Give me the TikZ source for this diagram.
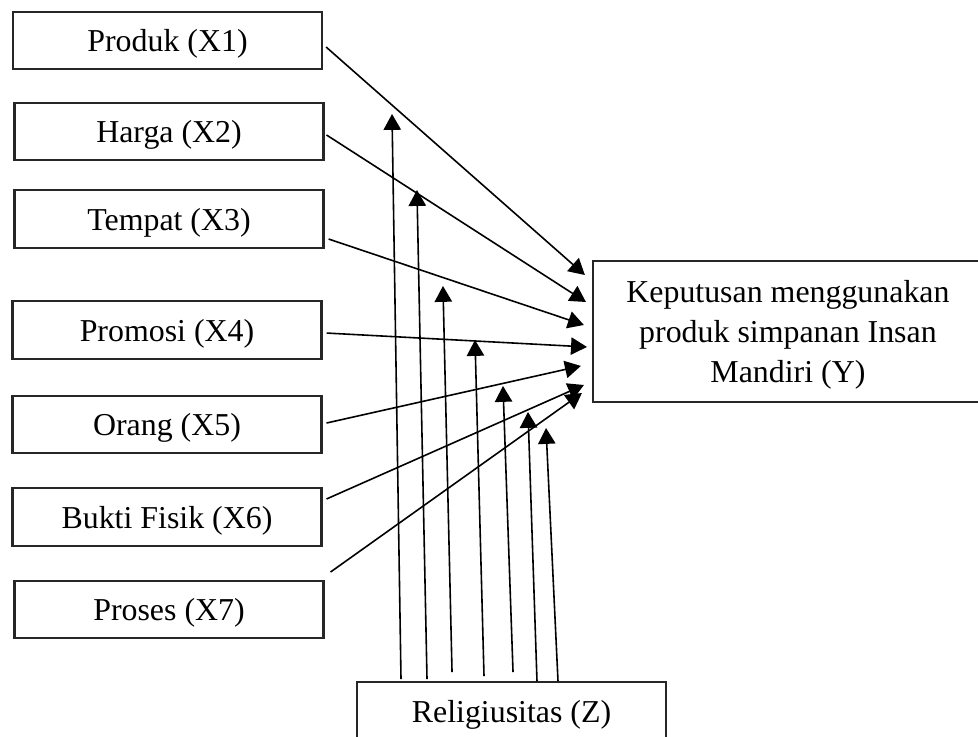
\documentclass[tikz,border=0pt]{standalone}
\usepackage{fontspec}
\setmainfont{Liberation Serif}
\usetikzlibrary{arrows.meta,calc}

\begin{document}
\begin{tikzpicture}[
font=\fontsize{12}{15}\selectfont,
factor/.style={draw=black!85, line width=0.8pt, align=center, minimum width=4.088cm, minimum height=0.761cm, inner sep=0pt, text depth=0pt},
target/.style={draw=black!85, line width=0.8pt, align=center, minimum width=5.159cm, minimum height=1.865cm, inner sep=0pt, text depth=0pt},
arrow/.style={-{Triangle[length=2.1mm,width=2.3mm]}, draw=black, line width=0.6pt}
]
\useasboundingbox (0,0) rectangle (12.938,-9.737);

\node[factor] (x1) at (2.216,-0.536) {Produk (X1)};
\node[factor] (x2) at (2.236,-1.740) {Harga (X2)};
\node[factor] (x3) at (2.236,-2.897) {Tempat (X3)};
\node[factor] (x4) at (2.209,-4.366) {Promosi (X4)};
\node[factor] (x5) at (2.209,-5.616) {Orang (X5)};
\node[factor] (x6) at (2.209,-6.839) {Bukti Fisik (X6)};
\node[factor] (x7) at (2.236,-8.063) {Proses (X7)};

\node[target] (y) at (10.424,-4.385) {Keputusan menggunakan\\produk simpanan Insan\\Mandiri (Y)};

\node[factor] (z) at (6.767,-9.406) {Religiusitas (Z)};

\draw[arrow] ($(x1.east)+(0.040,-0.086)$) -- ($(y.west)+(-0.093,0.747)$);
\draw[arrow] ($(x2.east)+(0.026,-0.046)$) -- ($(y.west)+(-0.079,0.390)$);
\draw[arrow] ($(x3.east)+(0.053,-0.265)$) -- ($(y.west)+(-0.106,0.086)$);
\draw[arrow] ($(x4.east)+(0.053,-0.040)$) -- ($(y.west)+(-0.066,-0.205)$);
\draw[arrow] ($(x5.east)+(0.053,0.020)$) -- ($(y.west)+(-0.146,-0.456)$);
\draw[arrow] ($(x6.east)+(0.053,0.238)$) -- ($(y.west)+(-0.106,-0.708)$);
\draw[arrow] ($(x7.east)+(0.079,0.496)$) -- ($(y.west)+(-0.132,-0.814)$);

\coordinate (t1) at (5.186,-1.508);
\coordinate (t2) at (5.516,-2.514);
\coordinate (t3) at (5.860,-3.783);
\coordinate (t4) at (6.284,-4.498);
\coordinate (t5) at (6.654,-5.106);
\coordinate (t6) at (6.985,-5.450);
\coordinate (t7) at (7.223,-5.662);

\draw[arrow] ($(z.north)+(-1.462,0.026)$) -- (t1);
\draw[arrow] ($(z.north)+(-1.118,0.026)$) -- (t2);
\draw[arrow] ($(z.north)+(-0.787,0.119)$) -- (t3);
\draw[arrow] ($(z.north)+(-0.364,0.066)$) -- (t4);
\draw[arrow] ($(z.north)+(0.020,0.119)$) -- (t5);
\draw[arrow] ($(z.north)+(0.337,0)$) -- (t6);
\draw[arrow] ($(z.north)+(0.615,0)$) -- (t7);
\end{tikzpicture}
\end{document}
